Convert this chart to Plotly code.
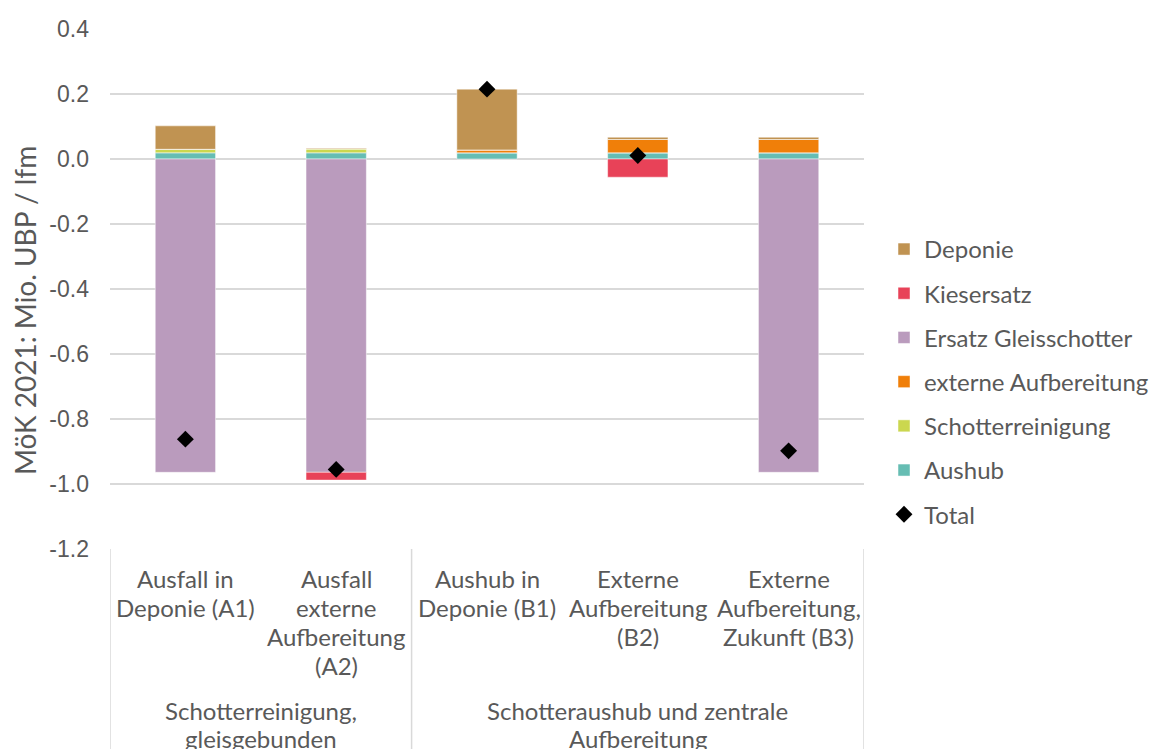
import plotly.graph_objects as go

# Scenarios (bottom category row) and their groups (second row)
categories = [
    "Ausfall in<br>Deponie (A1)",
    "Ausfall<br>externe<br>Aufbereitung<br>(A2)",
    "Aushub in<br>Deponie (B1)",
    "Externe<br>Aufbereitung<br>(B2)",
    "Externe<br>Aufbereitung,<br>Zukunft (B3)",
]
groups = ["Schotterreinigung,<br>gleisgebunden", "Schotteraushub und zentrale<br>Aufbereitung"]
group_members = [[0, 1], [2, 3, 4]]

# Contributions in Mio. UBP per lfm
aushub = [0.019, 0.019, 0.019, 0.019, 0.019]
schotterreinigung = [0.011, 0.012, 0.0, 0.0, 0.0]
externe_aufbereitung = [0.0, 0.0, 0.009, 0.041, 0.041]
ersatz_gleisschotter = [-0.964, -0.964, 0.0, 0.0, -0.964]
kiesersatz = [0.0, -0.024, 0.0, -0.056, 0.0]
deponie = [0.072, 0.002, 0.187, 0.007, 0.007]
total = [-0.862, -0.955, 0.215, 0.011, -0.898]

y_ticks = [0.4, 0.2, 0.0, -0.2, -0.4, -0.6, -0.8, -1.0, -1.2]
y_ticktext = ["0.4", "0.2", "0.0", "-0.2", "-0.4", "-0.6", "-0.8", "-1.0", "-1.2"]
y_title = "MöK 2021: Mio. UBP / lfm"

TEXT = "#595959"
FONT = "Lato"
GRID = "#D9D9D9"

x = list(range(len(categories)))

# stacking order from the zero line outwards; legend rank sets the listed order
series = [
    ("Aushub", aushub, "#66BDB3", 6),
    ("Schotterreinigung", schotterreinigung, "#CBD74F", 5),
    ("externe Aufbereitung", externe_aufbereitung, "#F07F09", 4),
    ("Ersatz Gleisschotter", ersatz_gleisschotter, "#BA9BBD", 3),
    ("Kiesersatz", kiesersatz, "#E84258", 2),
    ("Deponie", deponie, "#C09352", 1),
]

fig = go.Figure()
for name, vals, color, rank in series:
    fig.add_trace(go.Bar(
        x=x, y=vals, name=name, legendrank=rank, legendgroup=name,
        marker=dict(color=color, line=dict(color="rgba(255,255,255,0.6)", width=0.8)),
        width=0.4,
    ))

fig.add_trace(go.Scatter(
    x=x, y=total, name="Total", mode="markers", legendrank=7, legendgroup="Total",
    marker=dict(symbol="diamond", size=13, color="black"),
))

# category labels, one annotation per text line
LINE = 29
annotations = []
for i, lab in enumerate(categories):
    for j, line in enumerate(lab.split("<br>")):
        annotations.append(dict(
            x=i, y=0, xref="x", yref="paper", text=line, showarrow=False,
            xanchor="center", yanchor="middle", yshift=-29 - j * LINE,
            font=dict(family=FONT, size=24, color=TEXT),
        ))
for g, members in zip(groups, group_members):
    cx = (members[0] + members[-1]) / 2
    for j, line in enumerate(g.split("<br>")):
        annotations.append(dict(
            x=cx, y=0, xref="x", yref="paper", text=line, showarrow=False,
            xanchor="center", yanchor="middle", yshift=-161 - j * 28,
            font=dict(family=FONT, size=24, color=TEXT),
        ))

# value axis title
annotations.append(dict(
    x=0, y=0.4577, xref="paper", yref="paper", text=y_title, showarrow=False,
    textangle=-90, xanchor="center", yanchor="middle", xshift=-85,
    font=dict(family=FONT, size=28, color=TEXT),
))

# box lines around the category groups
shapes = []
edges = [-0.5] + [m[-1] + 0.5 for m in group_members]
for ex in edges:
    shapes.append(dict(type="line", xref="x", yref="paper", x0=ex, x1=ex, y0=0, y1=-0.5,
                       line=dict(color=GRID, width=1.5)))

fig.update_layout(
    barmode="relative",
    width=1158, height=749,
    margin=dict(l=110, r=294, t=29, b=200, autoexpand=False),
    paper_bgcolor="white", plot_bgcolor="white",
    font=dict(family=FONT, color=TEXT, size=24),
    showlegend=True,
    legend=dict(
        xref="container", yref="container",
        x=0.7634, y=0.697, xanchor="left", yanchor="top",
        font=dict(family=FONT, size=24, color=TEXT),
        tracegroupgap=10, traceorder="grouped",
    ),
    annotations=annotations,
    shapes=shapes,
)
fig.update_xaxes(range=[-0.5, 4.5], showticklabels=False, showgrid=False, zeroline=False,
                 showline=False, ticks="")
fig.update_yaxes(
    range=[-1.2, 0.4], tickvals=y_ticks, ticktext=y_ticktext,
    showgrid=True, gridcolor=GRID, gridwidth=1.5, zeroline=False, showline=False,
    tickfont=dict(family="Liberation Sans", size=23, color=TEXT),
    ticklabelstandoff=20,
)

fig.write_html("out.html")
